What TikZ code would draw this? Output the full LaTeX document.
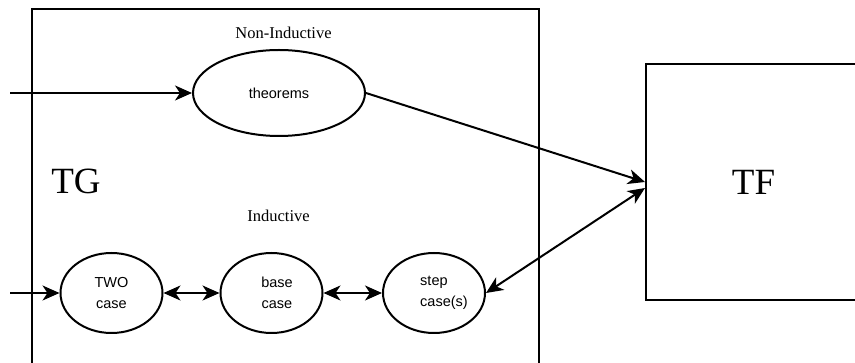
\documentclass[tikz,border=0pt]{standalone}
\usepackage{fontspec}
\setmainfont{Liberation Serif}
\setsansfont{Liberation Sans}
\usetikzlibrary{arrows.meta}
\usetikzlibrary{shapes.geometric}

\tikzset{
    ovalNode/.style={draw, ellipse, line width=2pt, inner sep=0pt, minimum width=102pt, minimum height=80pt, align=center, font=\sffamily\fontsize{14.5}{21}\selectfont},
    flowArrow/.style={line width=2pt, -{Stealth[length=17pt, width=15pt, inset=5pt]}},
    bothArrow/.style={line width=2pt, {Stealth[length=17pt, width=15pt, inset=5pt]}-{Stealth[length=17pt, width=15pt, inset=5pt]}},
    headText/.style={font=\fontsize{16.5}{20}\selectfont},
    bigText/.style={font=\fontsize{37}{44}\selectfont},
}

\begin{document}
\begin{tikzpicture}[x=1pt, y=-1pt]
    \newcommand\caseY{293}
    \newcommand\textShift{11pt}
    \newcommand\stepShift{20pt}

    \clip (0,0) rectangle (855,363);

    % group box
    \draw[line width=2pt] (32,9) rectangle (539,400);
    \node[bigText] (tgLabel) at (76,181) {TG};
    \node[headText] (nonIndLabel) at (283.5,32.5) {Non-Inductive};
    \node[headText] (indLabel) at (278.5,215.5) {Inductive};

    \node[ovalNode, minimum width=172pt, minimum height=86pt] (theorems) at (279,93) {\raisebox{-2pt}{theorems}};
    \node[ovalNode] (twoCase) at (111.5,\caseY) {TWO\\case};
    \node[ovalNode] (baseCase) at (271.5,\caseY) {\hspace*{\textShift}base\\\hspace*{\textShift}case};
    \node[ovalNode, align=left] (stepCase) at (434,\caseY) {\hspace*{\stepShift}step\\\hspace*{\stepShift}case(s)};

    \node[draw, line width=2pt, minimum width=215pt, minimum height=236pt, bigText] (tfBox) at (753.5,182) {TF};

    \coordinate (inTop) at (10,93);
    \coordinate (inBottom) at (10,\caseY);

    % draw arrow
    \draw[flowArrow] (inTop) -- (theorems);
    \draw[flowArrow] (inBottom) -- (twoCase);
    \draw[bothArrow] (twoCase) -- (baseCase);
    \draw[bothArrow] (baseCase) -- (stepCase);
    \draw[flowArrow] (theorems.east) -- (tfBox.west);
    \draw[bothArrow] (stepCase.east) -- ([yshift=-6pt]tfBox.west);
\end{tikzpicture}
\end{document}
